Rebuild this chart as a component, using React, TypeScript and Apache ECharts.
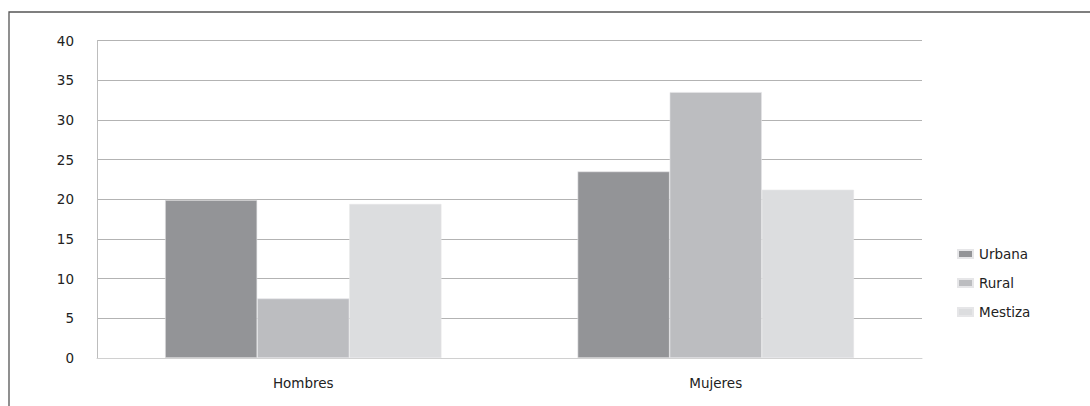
import React, { useEffect, useRef } from "react";
import * as echarts from "echarts";

const categories = ["Hombres", "Mujeres"];
const seriesNames = ["Urbana", "Rural", "Mestiza"];
const urbana = [19.9, 23.5];
const rural = [7.5, 33.5];
const mestiza = [19.4, 21.2];
const colors = ["#939497", "#bcbdc0", "#dcdddf"];

export default function App() {
  const ref = useRef<HTMLDivElement>(null);
  useEffect(() => {
    const chart = echarts.init(ref.current!, null, { renderer: "svg" });
    const values = [urbana, rural, mestiza];
    chart.setOption({
      animation: false,
      backgroundColor: "#ffffff",
      textStyle: { fontFamily: "DejaVu Sans, Verdana, sans-serif" },
      grid: { left: 97, top: 40.5, width: 825, height: 317.5, containLabel: false },
      xAxis: {
        type: "category",
        data: categories,
        axisLine: { show: true, lineStyle: { color: "#d0d0d0", width: 1 } },
        axisTick: { show: false },
        axisLabel: { color: "#222", fontSize: 13.5, margin: 18 },
      },
      yAxis: {
        type: "value",
        min: 0,
        max: 40,
        interval: 5,
        axisLine: { show: true, lineStyle: { color: "#bdbdbd", width: 1 } },
        axisTick: { show: false },
        axisLabel: { color: "#222", fontSize: 13.5, margin: 23 },
        splitLine: { lineStyle: { color: "#b3b3b3", width: 1 } },
      },
      legend: {
        orient: "vertical",
        left: 952,
        top: 242,
        itemWidth: 15,
        itemHeight: 8,
        itemGap: 15,
        icon: "rect",
        textStyle: { color: "#222", fontSize: 13.5, padding: [0, 0, 0, 1] },
        data: seriesNames,
      },
      series: seriesNames.map((name, i) => ({
        name,
        type: "bar",
        data: values[i],
        barGap: "0%",
        barCategoryGap: "33%",
        itemStyle: { color: colors[i], borderColor: "#e6e6e8", borderWidth: 0.6 },
      })),
      graphic: [
        {
          type: "rect",
          shape: { x: 9, y: 12, width: 1200, height: 600 },
          style: { fill: "none", stroke: "#555555", lineWidth: 1.3 },
          silent: true,
        },
      ],
    });
    return () => chart.dispose();
  }, []);
  return (
    <div
      ref={ref}
      style={{ position: "fixed", left: 0, top: 0, width: 1090, height: 406 }}
    />
  );
}
